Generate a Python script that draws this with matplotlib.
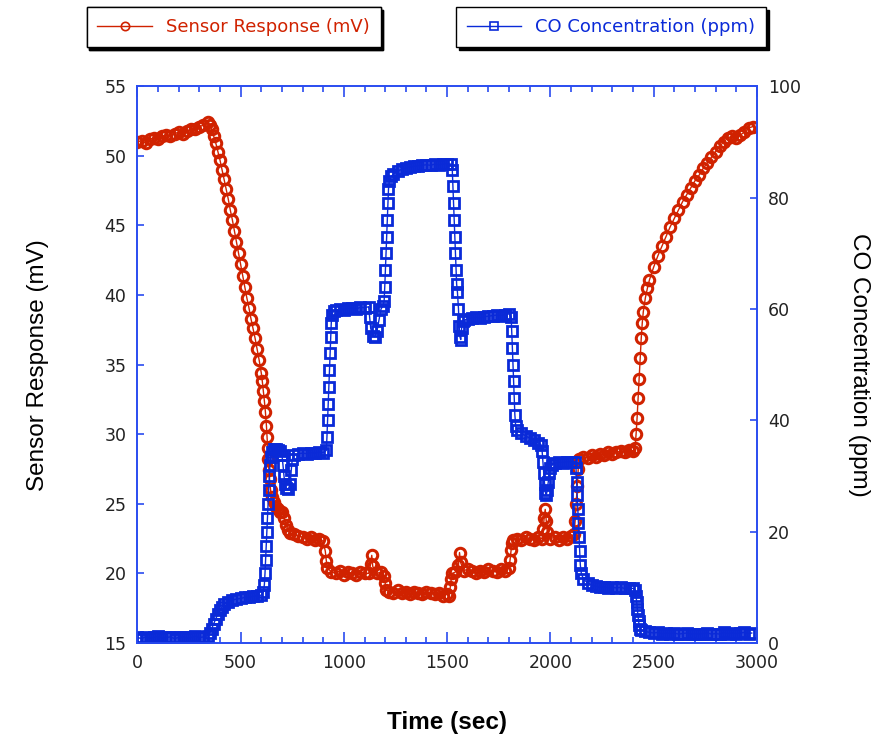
import numpy as np
import matplotlib.pyplot as plt
from matplotlib.lines import Line2D

# sensor response (mV)
sensor_t = [0, 20, 40, 60, 80, 100, 120, 140, 160, 180, 200, 220, 240, 260, 280, 300, 320, 340, 350, 360,
            370, 380, 390, 400, 410, 420, 430, 440, 450, 460, 470, 480, 490, 500, 510, 520, 530, 540, 550, 560,
            570, 580, 590, 600, 605, 610, 615, 620, 625, 628, 631, 634, 637, 640, 645, 650, 660, 670, 680, 690,
            700, 710, 720, 730, 740, 760, 780, 800, 820, 840, 860, 880, 900, 910, 915, 920, 940, 960, 980, 1000,
            1020, 1040, 1060, 1080, 1100, 1120, 1130, 1135, 1140, 1160, 1180, 1195, 1200, 1205, 1220, 1240, 1260, 1280, 1300, 1320,
            1340, 1360, 1380, 1400, 1420, 1440, 1460, 1480, 1500, 1510, 1515, 1520, 1525, 1540, 1555, 1560, 1565, 1580, 1600, 1620,
            1640, 1660, 1680, 1700, 1720, 1740, 1760, 1780, 1800, 1805, 1810, 1815, 1820, 1840, 1860, 1880, 1900, 1920, 1940, 1960,
            1965, 1970, 1975, 1980, 1985, 2000, 2020, 2040, 2060, 2080, 2100, 2115, 2120, 2125, 2130, 2135, 2140, 2160, 2180, 2200,
            2220, 2240, 2260, 2280, 2300, 2320, 2340, 2360, 2380, 2400, 2410, 2415, 2420, 2425, 2430, 2435, 2440, 2445, 2450, 2460,
            2470, 2480, 2500, 2520, 2540, 2560, 2580, 2600, 2620, 2640, 2660, 2680, 2700, 2720, 2740, 2760, 2780, 2800, 2820, 2840,
            2860, 2880, 2900, 2920, 2940, 2960, 2980]
sensor_mv = [51.0, 51.1, 50.9, 51.2, 51.3, 51.2, 51.4, 51.5, 51.4, 51.6, 51.7, 51.6, 51.8, 51.9, 51.9, 52.1, 52.2, 52.4, 52.2, 51.9,
             51.4, 50.9, 50.3, 49.7, 49.0, 48.3, 47.6, 46.9, 46.1, 45.4, 44.6, 43.8, 43.0, 42.2, 41.4, 40.6, 39.8, 39.1, 38.3, 37.6,
             36.9, 36.1, 35.3, 34.4, 33.8, 33.1, 32.4, 31.6, 30.6, 29.8, 29.0, 28.2, 27.4, 26.8, 26.0, 25.5, 25.1, 24.8, 24.6, 24.4,
             24.4, 24.0, 23.5, 23.1, 22.9, 22.8, 22.7, 22.6, 22.5, 22.6, 22.4, 22.5, 22.3, 21.6, 20.9, 20.4, 20.1, 20.0, 20.2, 19.9,
             20.1, 20.0, 19.9, 20.1, 20.0, 20.0, 20.7, 21.3, 20.5, 20.0, 20.1, 19.8, 19.3, 18.8, 18.7, 18.6, 18.8, 18.6, 18.7, 18.5,
             18.7, 18.6, 18.5, 18.7, 18.6, 18.5, 18.6, 18.4, 18.5, 18.4, 19.0, 19.6, 20.0, 20.1, 20.6, 21.5, 20.8, 20.2, 20.3, 20.2,
             20.0, 20.2, 20.1, 20.3, 20.2, 20.1, 20.3, 20.2, 20.4, 21.0, 21.7, 22.2, 22.4, 22.5, 22.4, 22.6, 22.5, 22.4, 22.6, 22.5,
             23.2, 24.0, 24.6, 23.8, 23.0, 22.5, 22.6, 22.4, 22.6, 22.5, 22.7, 22.8, 23.8, 25.0, 26.3, 27.5, 28.2, 28.4, 28.3, 28.5,
             28.4, 28.6, 28.5, 28.7, 28.6, 28.7, 28.8, 28.7, 28.9, 28.8, 29.0, 30.0, 31.2, 32.6, 34.0, 35.5, 36.9, 38.0, 38.8, 39.8,
             40.5, 41.1, 42.0, 42.8, 43.5, 44.2, 44.9, 45.5, 46.1, 46.7, 47.2, 47.7, 48.2, 48.6, 49.1, 49.5, 49.9, 50.3, 50.7, 51.0,
             51.3, 51.4, 51.3, 51.5, 51.7, 52.0, 52.1]

# CO concentration (ppm)
co_t = [0, 20, 40, 60, 80, 100, 120, 140, 160, 180, 200, 220, 240, 260, 280, 300, 320, 340, 350, 360,
        370, 380, 390, 400, 410, 420, 440, 460, 480, 500, 520, 540, 560, 580, 600, 610, 615, 618, 621, 624,
        627, 630, 633, 636, 639, 642, 645, 650, 660, 670, 680, 690, 700, 705, 710, 715, 720, 730, 740, 745,
        750, 760, 780, 800, 820, 840, 860, 880, 900, 915, 918, 921, 924, 927, 930, 933, 936, 939, 942, 950,
        960, 980, 1000, 1020, 1040, 1060, 1080, 1100, 1120, 1125, 1130, 1140, 1150, 1160, 1170, 1180, 1190, 1195, 1198, 1201,
        1204, 1207, 1210, 1213, 1216, 1220, 1230, 1240, 1260, 1280, 1300, 1320, 1340, 1360, 1380, 1400, 1420, 1440, 1460, 1480,
        1500, 1520, 1525, 1528, 1531, 1534, 1537, 1540, 1543, 1546, 1550, 1555, 1558, 1562, 1566, 1570, 1575, 1580, 1600, 1620,
        1640, 1660, 1680, 1700, 1720, 1740, 1760, 1780, 1800, 1810, 1813, 1816, 1819, 1822, 1825, 1828, 1832, 1840, 1860, 1880,
        1900, 1920, 1940, 1955, 1960, 1964, 1968, 1972, 1976, 1980, 1985, 1990, 1995, 2000, 2010, 2020, 2040, 2060, 2080, 2100,
        2120, 2124, 2127, 2130, 2133, 2136, 2139, 2142, 2145, 2150, 2160, 2180, 2200, 2220, 2240, 2260, 2280, 2300, 2320, 2340,
        2360, 2380, 2400, 2410, 2415, 2418, 2421, 2424, 2427, 2430, 2435, 2440, 2460, 2480, 2500, 2520, 2540, 2560, 2580, 2600,
        2620, 2640, 2660, 2680, 2700, 2720, 2740, 2760, 2780, 2800, 2820, 2840, 2860, 2880, 2900, 2920, 2940, 2960, 2975]
co_ppm = [1.0, 0.8, 1.1, 0.9, 1.0, 1.2, 0.9, 1.0, 1.1, 0.8, 1.0, 1.1, 0.9, 1.0, 1.2, 1.0, 1.1, 1.3, 1.8, 2.6,
          3.5, 4.4, 5.2, 5.9, 6.5, 7.0, 7.4, 7.7, 7.9, 8.0, 8.2, 8.2, 8.4, 8.5, 8.6, 9.2, 10.5, 12.5, 15.0, 17.5,
          20.0, 22.5, 25.0, 27.5, 30.0, 32.0, 33.5, 34.3, 34.8, 34.9, 34.6, 34.4, 33.8, 32.0, 30.0, 28.5, 27.8, 27.6, 28.5, 31.0,
          33.0, 33.8, 34.0, 34.1, 34.0, 34.2, 34.1, 34.3, 34.2, 34.6, 37.0, 40.0, 43.0, 46.0, 49.0, 52.0, 55.0, 57.5, 59.0, 59.6,
          59.8, 60.0, 59.9, 60.1, 60.2, 60.0, 60.3, 60.2, 60.4, 58.5, 56.5, 55.2, 55.0, 56.0, 58.0, 60.0, 60.6, 61.5, 64.0, 67.0,
          70.0, 73.0, 76.0, 79.0, 81.5, 83.0, 83.8, 84.2, 84.7, 85.1, 85.3, 85.5, 85.6, 85.7, 85.8, 85.9, 85.8, 86.0, 85.9, 86.0,
          86.1, 86.0, 85.0, 82.0, 79.0, 76.0, 73.0, 70.0, 67.0, 64.5, 63.0, 60.0, 57.0, 55.0, 54.5, 56.5, 57.8, 58.0, 58.2, 58.4,
          58.5, 58.4, 58.6, 58.7, 58.8, 58.9, 58.8, 59.0, 59.1, 58.6, 56.0, 53.0, 50.0, 47.0, 44.0, 41.0, 39.0, 38.2, 37.7, 37.2,
          36.8, 36.4, 36.0, 35.6, 34.5, 32.5, 30.5, 28.5, 27.0, 26.5, 27.5, 29.0, 30.5, 31.5, 32.0, 32.3, 32.5, 32.4, 32.6, 32.5,
          32.6, 31.5, 29.0, 26.5, 24.0, 21.5, 19.0, 16.5, 14.0, 12.5, 11.5, 10.8, 10.4, 10.2, 10.0, 10.1, 9.9, 10.0, 9.9, 10.0,
          9.8, 9.9, 9.8, 9.6, 8.5, 7.3, 6.1, 5.0, 4.0, 3.2, 2.6, 2.3, 2.1, 1.9, 1.8, 1.9, 1.7, 1.8, 1.7, 1.8,
          1.6, 1.7, 1.8, 1.6, 1.7, 1.6, 1.7, 1.8, 1.6, 1.7, 1.6, 1.9, 1.7, 1.8, 1.7, 1.8, 1.9, 1.7, 1.8]

RED = '#d02200'
BLUE = '#0a2ad8'
SPINE = '#2a4cf0'

fig = plt.figure(figsize=(8.75, 7.37), dpi=100)
ax = fig.add_axes([0.157, 0.1275, 0.708, 0.7555])
ax2 = ax.twinx()

ax.plot(sensor_t, sensor_mv, color=RED, lw=1, marker='o', ms=7.5, mfc='none', mec=RED, mew=2.2)
ax2.plot(co_t, co_ppm, color=BLUE, lw=1, marker='s', ms=6.5, mfc='none', mec=BLUE, mew=2.0)

ax.set_xlim(0, 3000)
ax.set_ylim(15, 55)
ax2.set_ylim(0, 100)
ax.set_xticks(np.arange(0, 3001, 500))
ax.set_xticks(np.arange(0, 3001, 100), minor=True)
ax.set_yticks(np.arange(15, 56, 5))
ax2.set_yticks(np.arange(0, 101, 20))

for a in (ax, ax2):
    for s in a.spines.values():
        s.set_color(SPINE)
        s.set_linewidth(1.2)
ax.tick_params(axis='x', which='both', direction='in', top=True, color=SPINE, labelsize=12.5, pad=8)
ax.tick_params(axis='x', which='major', length=8, width=1.2)
ax.tick_params(axis='x', which='minor', length=4, width=1.2)
ax.tick_params(axis='y', direction='in', length=5, width=1.2, color=SPINE, labelsize=12.5, labelcolor='#222222', pad=8)
ax2.tick_params(axis='y', direction='in', length=5, width=1.2, color=SPINE, labelsize=12.5, labelcolor='#222222', pad=8)
ax.tick_params(axis='x', labelcolor='#222222')

lab_font = ['Liberation Sans', 'DejaVu Sans']
ax.set_ylabel('Sensor Response (mV)', fontsize=17.5, family=lab_font, labelpad=40)
ax2.set_ylabel('CO Concentration (ppm)', fontsize=17.5, family=lab_font, rotation=270, labelpad=50)
ax.set_xlabel('Time (sec)', fontsize=17.5, family=lab_font, fontweight='bold', labelpad=28)

h1 = Line2D([], [], color=RED, lw=1, marker='o', ms=6, mfc='none', mec=RED, mew=1.2)
h2 = Line2D([], [], color=BLUE, lw=1, marker='s', ms=5.5, mfc='none', mec=BLUE, mew=1.2)
shadow = {'color': 'black', 'alpha': 1}
leg1 = fig.legend([h1], ['Sensor Response (mV)'], loc='upper left', bbox_to_anchor=(0.099, 0.99),
                  borderaxespad=0, fontsize=13, handlelength=3, frameon=True, fancybox=False, shadow=shadow,
                  edgecolor='black', framealpha=1, borderpad=0.6, labelcolor=RED)
leg2 = fig.legend([h2], ['CO Concentration (ppm)'], loc='upper left', bbox_to_anchor=(0.521, 0.99),
                  borderaxespad=0, fontsize=13, handlelength=3, frameon=True, fancybox=False, shadow=shadow,
                  edgecolor='black', framealpha=1, borderpad=0.6, labelcolor=BLUE)
fig.add_artist(leg1)

fig.savefig('out.png', dpi=100)
